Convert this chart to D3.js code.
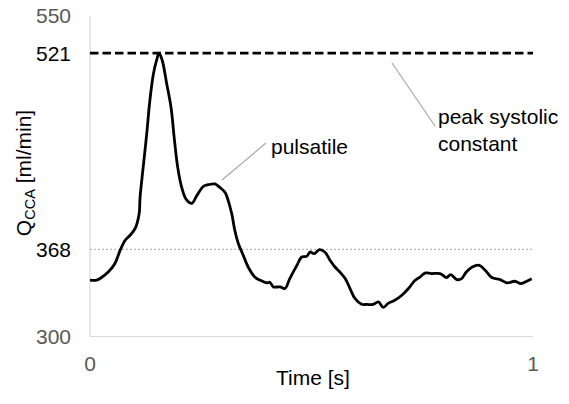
<!DOCTYPE html>
<html>
<head>
<meta charset="utf-8">
<script src="https://cdn.jsdelivr.net/npm/d3@7/dist/d3.min.js"></script>
<style>
  html, body { margin: 0; padding: 0; background: #fff; }
  svg { display: block; font-family: "Liberation Sans", Arial, sans-serif; }
</style>
</head>
<body>
<svg id="chart" width="569" height="404"></svg>
<script>
// Common carotid artery flow over one cardiac cycle
const timeS = [0, 0.015, 0.026, 0.041, 0.056, 0.068, 0.079, 0.090, 0.102, 0.111,
  0.113, 0.120, 0.128, 0.135, 0.143, 0.151, 0.156, 0.163, 0.173, 0.183,
  0.190, 0.198, 0.207, 0.218, 0.230, 0.241, 0.256, 0.267, 0.282, 0.293,
  0.305, 0.312, 0.320, 0.327, 0.335, 0.346, 0.357, 0.372, 0.384, 0.399,
  0.406, 0.414, 0.429, 0.440, 0.451, 0.467, 0.478, 0.489, 0.497, 0.506,
  0.518, 0.530, 0.542, 0.553, 0.564, 0.576, 0.587, 0.598, 0.613, 0.625,
  0.639, 0.651, 0.662, 0.673, 0.688, 0.704, 0.719, 0.734, 0.745, 0.756,
  0.771, 0.790, 0.805, 0.814, 0.828, 0.839, 0.849, 0.862, 0.879, 0.892,
  0.907, 0.926, 0.941, 0.959, 0.973, 0.986, 0.997];
const flowPulsatile = [343.9, 343.9, 346.0, 350.3, 356.8, 367.2, 374.9, 378.8, 384.3, 395.9,
  408.6, 431.9, 458.0, 483.7, 504.6, 516.3, 521.0, 515.5, 497.4, 478.5,
  455.2, 431.9, 416.3, 406.5, 403.9, 409.9, 417.1, 418.4, 419.0, 416.3,
  412.4, 406.0, 395.7, 382.7, 372.4, 363.3, 354.2, 346.4, 343.9, 341.8,
  342.3, 338.7, 338.7, 337.4, 345.2, 355.5, 362.0, 362.5, 365.9, 364.6,
  367.7, 365.9, 359.4, 354.2, 350.3, 345.2, 337.4, 329.7, 325.2, 325.0,
  325.0, 327.0, 322.7, 325.8, 328.3, 332.2, 337.4, 343.9, 346.4, 349.5,
  349.1, 349.1, 346.0, 348.3, 344.4, 345.2, 350.1, 354.0, 355.5, 351.6,
  346.0, 344.4, 341.8, 343.1, 341.3, 343.1, 345.0];
const peakSystolic = 521;
const meanFlow = 368;
const yTicks = [300, 368, 521, 550];
const xTicks = [0, 1];

const svg = d3.select("#chart");
const x = d3.scaleLinear().domain([0, 1]).range([90, 533]);
const y = d3.scaleLinear().domain([300, 550]).range([336.5, 16]);
const fs = 21;

// frame: light left and bottom axis lines
svg.append("line").attr("x1", x(0)).attr("x2", x(0))
  .attr("y1", y(550)).attr("y2", y(300))
  .attr("stroke", "#d9d9d9").attr("stroke-width", 1.2);
svg.append("line").attr("x1", x(0)).attr("x2", x(1))
  .attr("y1", y(300)).attr("y2", y(300))
  .attr("stroke", "#d9d9d9").attr("stroke-width", 1.2);

// reference level (dotted)
svg.append("line").attr("x1", x(0)).attr("x2", x(1))
  .attr("y1", y(meanFlow)).attr("y2", y(meanFlow))
  .attr("stroke", "#a6a6a6").attr("stroke-width", 1)
  .attr("stroke-dasharray", "2,2");

// constant peak systolic flow (dashed)
svg.append("line").attr("x1", x(0)).attr("x2", x(1))
  .attr("y1", y(peakSystolic)).attr("y2", y(peakSystolic))
  .attr("stroke", "#000").attr("stroke-width", 2.7)
  .attr("stroke-dasharray", "8.5,4");

// pulsatile waveform
const pts = timeS.map((t, i) => [t, flowPulsatile[i]]);
svg.append("path").datum(pts)
  .attr("fill", "none").attr("stroke", "#000").attr("stroke-width", 2.8)
  .attr("stroke-linejoin", "round")
  .attr("d", d3.line().x(d => x(d[0])).y(d => y(d[1])).curve(d3.curveCatmullRom.alpha(0.5)));

// y tick labels
const yLabelColor = v => (v === 300 || v === 550) ? "#595959" : "#000";
svg.append("g").selectAll("text").data(yTicks).join("text")
  .attr("x", 71).attr("y", d => y(d)).attr("dy", "0.35em")
  .attr("text-anchor", "end").attr("font-size", fs)
  .attr("fill", yLabelColor).text(d => d);

// x tick labels
svg.append("g").selectAll("text").data(xTicks).join("text")
  .attr("x", d => x(d)).attr("y", 371)
  .attr("text-anchor", "middle").attr("font-size", fs)
  .attr("fill", "#595959").text(d => d);

// axis titles
svg.append("text").attr("x", 313).attr("y", 385)
  .attr("text-anchor", "middle").attr("font-size", fs).attr("fill", "#000")
  .text("Time [s]");

const yt = svg.append("text")
  .attr("transform", "translate(31,173) rotate(-90)")
  .attr("text-anchor", "middle").attr("font-size", fs).attr("fill", "#000");
yt.append("tspan").text("Q");
yt.append("tspan").attr("font-size", 14.5).attr("dy", 4).text("CCA");
yt.append("tspan").attr("dy", -4).text(" [ml/min]");

// annotations
svg.append("line").attr("x1", 222).attr("y1", 180).attr("x2", 266).attr("y2", 143)
  .attr("stroke", "#a6a6a6").attr("stroke-width", 1.2);
svg.append("text").attr("x", 271).attr("y", 154).attr("font-size", fs)
  .attr("fill", "#000").text("pulsatile");

svg.append("line").attr("x1", 392).attr("y1", 63).attr("x2", 435).attr("y2", 126)
  .attr("stroke", "#a6a6a6").attr("stroke-width", 1.2);
const pk = svg.append("text").attr("x", 438).attr("y", 124).attr("font-size", fs).attr("fill", "#000");
pk.append("tspan").attr("x", 438).text("peak systolic");
pk.append("tspan").attr("x", 438).attr("dy", 27).text("constant");
</script>
</body>
</html>
